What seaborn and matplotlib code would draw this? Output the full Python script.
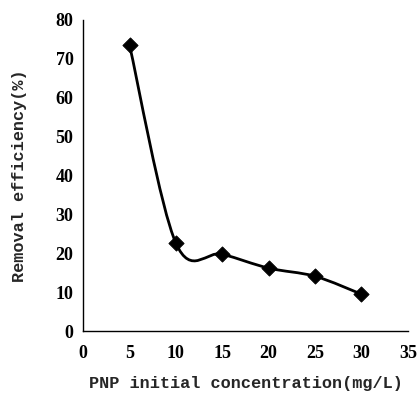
import numpy as np
import pandas as pd
import matplotlib
matplotlib.use("Agg")
import matplotlib.pyplot as plt
from matplotlib.path import Path
from matplotlib.patches import PathPatch
import seaborn as sns

concentration = [5, 10, 15, 20, 25, 30]
efficiency = [73.5, 22.6, 19.8, 16.2, 14.1, 9.5]
x_ticks = [0, 5, 10, 15, 20, 25, 30, 35]
y_ticks = [0, 10, 20, 30, 40, 50, 60, 70, 80]

sns.set_theme(style="white")
plt.rcParams['font.family'] = ['Liberation Serif', 'DejaVu Serif']

df = pd.DataFrame({"c": concentration, "e": efficiency})

fig = plt.figure(figsize=(4.2, 3.98), dpi=100)
ax = fig.add_axes([0.198, 0.168, 0.773, 0.782])

# smoothed connecting line (Bezier through data points, like spreadsheet smoothing)
xs = np.array(concentration, float)
ys = np.array(efficiency, float)
verts = [(xs[0], ys[0])]
codes = [Path.MOVETO]
n = len(xs)
for i in range(n - 1):
    p0 = np.array([xs[max(i - 1, 0)], ys[max(i - 1, 0)]])
    p1 = np.array([xs[i], ys[i]])
    p2 = np.array([xs[i + 1], ys[i + 1]])
    p3 = np.array([xs[min(i + 2, n - 1)], ys[min(i + 2, n - 1)]])
    c1 = p1 + (p2 - p0) / 6.0
    c2 = p2 - (p3 - p1) / 6.0
    verts += [tuple(c1), tuple(c2), tuple(p2)]
    codes += [Path.CURVE4] * 3
ax.add_patch(PathPatch(Path(verts, codes), facecolor="none", edgecolor="black", lw=2.0, zorder=2))

sns.scatterplot(data=df, x="c", y="e", ax=ax, marker="D", s=60, color="black",
                edgecolor="black", zorder=3, legend=False)

ax.set_xlim(0, 35)
ax.set_ylim(0, 80)
ax.set_xticks(x_ticks)
ax.set_yticks(y_ticks)
ax.tick_params(direction="in", length=3, width=0.8, colors="black", labelsize=13)
ax.tick_params(axis="x", pad=10)
ax.tick_params(axis="y", pad=7)
for lab in ax.get_xticklabels() + ax.get_yticklabels():
    lab.set_fontweight("bold")
ax.set_xlabel("PNP initial concentration(mg/L)", fontsize=12.2, fontweight="bold",
              family=["Liberation Mono", "DejaVu Sans Mono"])
ax.set_ylabel("Removal efficiency(%)", fontsize=12.2, fontweight="bold",
              family=["Liberation Mono", "DejaVu Sans Mono"])
ax.xaxis.set_label_coords(0.5, -0.145)
ax.yaxis.set_label_coords(-0.172, 0.5)
for s in ["top", "right"]:
    ax.spines[s].set_visible(False)
for s in ["left", "bottom"]:
    ax.spines[s].set_color("black")
    ax.spines[s].set_linewidth(1.0)

fig.savefig("out.png", dpi=100)
